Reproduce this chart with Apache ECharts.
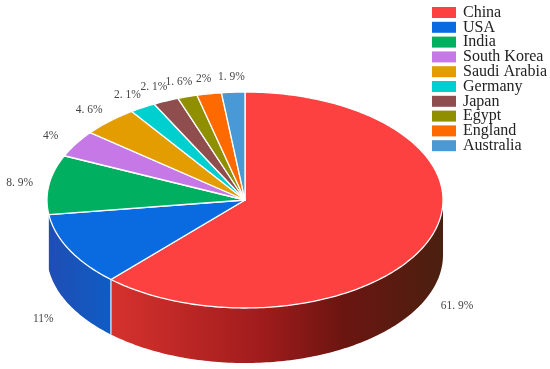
<!DOCTYPE html>
<html><head><meta charset="utf-8">
<style>html,body{margin:0;padding:0;background:#fff}#c{width:550px;height:369px}</style>
<script src="https://cdn.jsdelivr.net/npm/echarts@6/dist/echarts.min.js"></script>
</head><body><div id="c"></div>
<script>
const categories = ['China','USA','India','South Korea','Saudi Arabia','Germany','Japan','Egypt','England','Australia'];
const values = [61.9,11,8.9,4,4.6,2.1,2.1,1.6,2,1.9];
const labels = ['61. 9%','11%','8. 9%','4%','4. 6%','2. 1%','2. 1%','1. 6%','2%','1. 9%'];
const colors = ['#fd4040','#0a6ae0','#00b060','#c678e6','#e39d00','#00cfd0','#8f4d4d','#8f8f00','#ff6a00','#4899d6'];

const CX=245, CY=200, RX=198, RY=108, DEPTH=55, LABEL_SCALE=1.15;
const FONT='"Liberation Serif", serif';
const total = values.reduce((a,b)=>a+b,0);
const pt=(deg,dy,s)=>{const r=deg*Math.PI/180;s=s||1;return [CX+RX*s*Math.sin(r),CY-RY*s*Math.cos(r)+(dy||0)];};
const startOf=i=>values.slice(0,i).reduce((a,b)=>a+b,0)/total*360;
const arc=(a,b,dy)=>{const p=[];const n=Math.max(2,Math.ceil(Math.abs(b-a)));for(let k=0;k<=n;k++)p.push(pt(a+(b-a)*k/n,dy));return p;};

const wallStops = {
  0:[[0,'#d6322e'],[0.45,'#a01c1c'],[0.7,'#6b1510'],[1,'#4a2010']],
  1:[[0,'#0f5cc4'],[1,'#1f4eb4']]
};
function gradient(i,a,b){
  const xs=arc(a,b,0).map(p=>p[0]);
  const x0=Math.min(...xs),x1=Math.max(...xs);
  const st=wallStops[i].map(s=>({offset:s[0],color:s[1]}));
  if(i===0) return new echarts.graphic.LinearGradient(x0,0,x1,0,st,true);
  return new echarts.graphic.LinearGradient(x1,0,x0,0,st,true);
}
function renderSlice(params,api){
  const i=params.seriesIndex;
  const a=startOf(i), b=a+api.value(0)/total*360;
  const kids=[];
  if(wallStops[i]){
    const wa=Math.max(a,90), wb=Math.min(b,270);
    const top=arc(wa,wb,0), bot=arc(wb,wa,DEPTH);
    kids.push({type:'polygon',shape:{points:top.concat(bot)},style:{fill:gradient(i,wa,wb),stroke:null},silent:true});
    if(i===0){
      const e0=pt(b,0),e1=pt(b,DEPTH);
      kids.push({type:'line',shape:{x1:e0[0],y1:e0[1],x2:e1[0],y2:e1[1]},style:{stroke:'#d8fbff',lineWidth:1.2},z2:3,silent:true});
    }
  }
  kids.push({type:'polygon',shape:{points:[[CX,CY]].concat(arc(a,b,0))},
    style:{fill:colors[i],stroke:'#ffffff',lineWidth:1.3,lineJoin:'round'},z2:2,silent:true});
  const m=(a+b)/2, front=Math.cos(m*Math.PI/180)<0;
  const lp=pt(m,front?DEPTH+6:1,LABEL_SCALE);
  kids.push({type:'text',x:lp[0],y:lp[1],z2:5,silent:true,
    style:{text:labels[i],fill:'#444',font:'11.5px '+FONT,textAlign:'center',textVerticalAlign:'middle'}});
  return {type:'group',children:kids};
}
const series=categories.map((name,i)=>({
  name,type:'custom',coordinateSystem:'none',data:[[values[i]]],
  renderItem:renderSlice,itemStyle:{color:colors[i]},animation:false,silent:true,z:2+ (i<2?0:1)
}));
const chart=echarts.init(document.getElementById('c'),null,{renderer:'canvas'});
chart.setOption({
  backgroundColor:'#fff',animation:false,
  legend:{orient:'vertical',left:432,top:4.5,icon:'rect',itemWidth:24,itemHeight:11,itemGap:-1.2,padding:0,selectedMode:false,
    data:categories,textStyle:{fontFamily:FONT,fontSize:16,color:'#222',lineHeight:16,padding:[0,0,0,2]}},
  series
});
</script></body></html>
